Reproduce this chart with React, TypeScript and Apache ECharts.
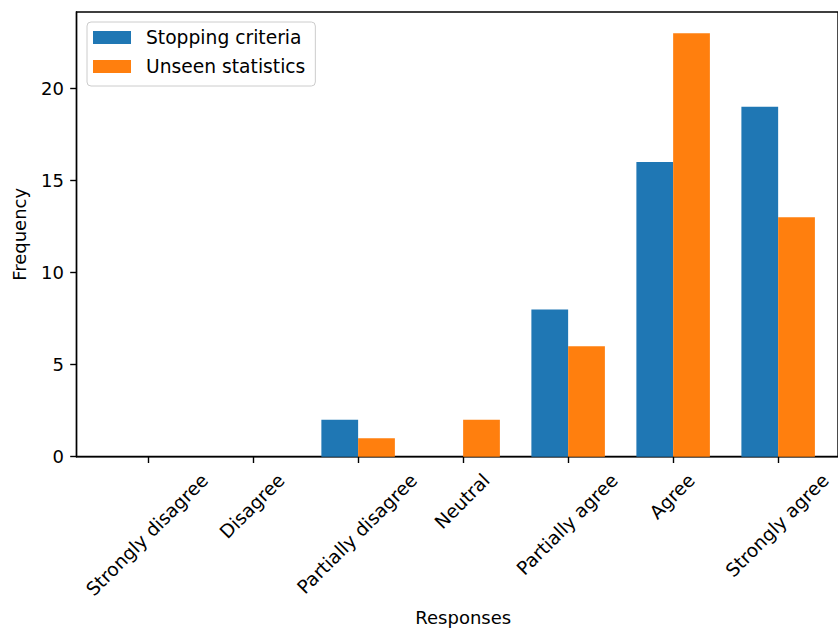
import React, { useEffect, useRef } from "react";
import * as echarts from "echarts";

const categories = [
  "Strongly disagree",
  "Disagree",
  "Partially disagree",
  "Neutral",
  "Partially agree",
  "Agree",
  "Strongly agree",
];
const stoppingCriteria = [0, 0, 2, 0, 8, 16, 19];
const unseenStatistics = [0, 0, 1, 2, 6, 23, 13];
const yTicks = [0, 5, 10, 15, 20];

const FONT = "DejaVu Sans";
const FS = 18;
const FS_TICK = 18.6;
const FS_LEG = 18.7;
const BAR_W = 0.35;

function measure(text: string, fs: number): number {
  const c = document.createElement("canvas").getContext("2d");
  if (!c) return text.length * fs * 0.55;
  c.font = `${fs}px "${FONT}"`;
  return c.measureText(text).width;
}

export default function App() {
  const ref = useRef<HTMLDivElement>(null);
  useEffect(() => {
    if (!ref.current) return;
    const chart = echarts.init(ref.current, null, { renderer: "svg" });
    const barRender = (offset: number, color: string) => (params: any, api: any) => {
      const i = api.value(0);
      const v = api.value(1);
      const p0 = api.coord([i + offset, v]);
      const p1 = api.coord([i + offset + BAR_W, 0]);
      return {
        type: "rect",
        shape: { x: p0[0], y: p0[1], width: p1[0] - p0[0], height: p1[1] - p0[1] },
        style: { fill: color },
      };
    };
    const lineH = FS_TICK * 1.165;
    chart.setOption({
      animation: false,
      textStyle: { fontFamily: FONT },
      grid: {
        left: 76.5,
        right: 0,
        top: 12,
        bottom: 173.3,
        containLabel: false,
        outerBoundsMode: "none",
        show: true,
        borderColor: "#000",
        borderWidth: 1.4,
        backgroundColor: "transparent",
      },
      legend: {
        data: ["Stopping criteria", "Unseen statistics"],
        orient: "vertical",
        left: 87,
        top: 22,
        icon: "rect",
        itemWidth: 38,
        itemHeight: 13,
        itemGap: 10,
        padding: [6, 10, 10, 6],
        borderColor: "#cccccc",
        borderWidth: 1,
        borderRadius: 4,
        backgroundColor: "rgba(255,255,255,0.8)",
        textStyle: { fontFamily: FONT, fontSize: FS_LEG, color: "#000", padding: [0, 0, 0, 10] },
      },
      xAxis: {
        type: "value",
        min: -0.682,
        max: 6.57,
        name: "Responses",
        nameLocation: "middle",
        nameGap: 152,
        nameTextStyle: { fontFamily: FONT, fontSize: FS, color: "#000", padding: [0, 0, 0, 12] },
        axisLine: { show: true, onZero: false, lineStyle: { color: "#000", width: 1.4 } },
        axisTick: {
          show: true,
          customValues: categories.map((_, i) => i),
          length: 6.3,
          lineStyle: { color: "#000", width: 1.4 },
        },
        axisLabel: { show: false },
        splitLine: { show: false },
      },
      yAxis: {
        type: "value",
        min: 0,
        max: 24.15,
        interval: 5,
        name: "Frequency",
        nameLocation: "middle",
        nameGap: 48,
        nameTextStyle: { fontFamily: FONT, fontSize: FS, color: "#000" },
        axisLine: { show: true, onZero: false, lineStyle: { color: "#000", width: 1.4 } },
        axisTick: {
          show: true,
          customValues: yTicks,
          length: 6.3,
          lineStyle: { color: "#000", width: 1.4 },
        },
        axisLabel: {
          customValues: yTicks,
          margin: 12.6,
          fontFamily: FONT,
          fontSize: FS,
          color: "#000",
          formatter: (v: number) => String(v),
        },
        splitLine: { show: false },
      },
      series: [
        {
          name: "Stopping criteria",
          type: "custom",
          itemStyle: { color: "#1f77b4" },
          encode: { x: 0, y: 1 },
          data: stoppingCriteria.map((v, i) => [i, v]),
          renderItem: barRender(-BAR_W, "#1f77b4"),
        },
        {
          name: "Unseen statistics",
          type: "custom",
          itemStyle: { color: "#ff7f0e" },
          encode: { x: 0, y: 1 },
          data: unseenStatistics.map((v, i) => [i, v]),
          renderItem: barRender(0, "#ff7f0e"),
        },
        {
          name: "labels",
          type: "custom",
          clip: false,
          silent: true,
          encode: { x: 0, y: 1 },
          data: categories.map((_, i) => [i, 0]),
          renderItem: (params: any, api: any) => {
            const i = api.value(0);
            const p = api.coord([i, 0]);
            const text = categories[i];
            const L = measure(text, FS_TICK);
            return {
              type: "text",
              x: p[0] - 1,
              y: p[1] + 12.6 + 0.3536 * (L + lineH),
              rotation: Math.PI / 4,
              style: {
                text,
                fill: "#000",
                font: `${FS_TICK}px "${FONT}"`,
                align: "center",
                verticalAlign: "middle",
              },
            };
          },
        },
      ],
    });
    return () => chart.dispose();
  }, []);
  return (
    <div
      ref={ref}
      style={{ position: "absolute", left: 0, top: 0, width: 838, height: 630, background: "#fff" }}
    />
  );
}
